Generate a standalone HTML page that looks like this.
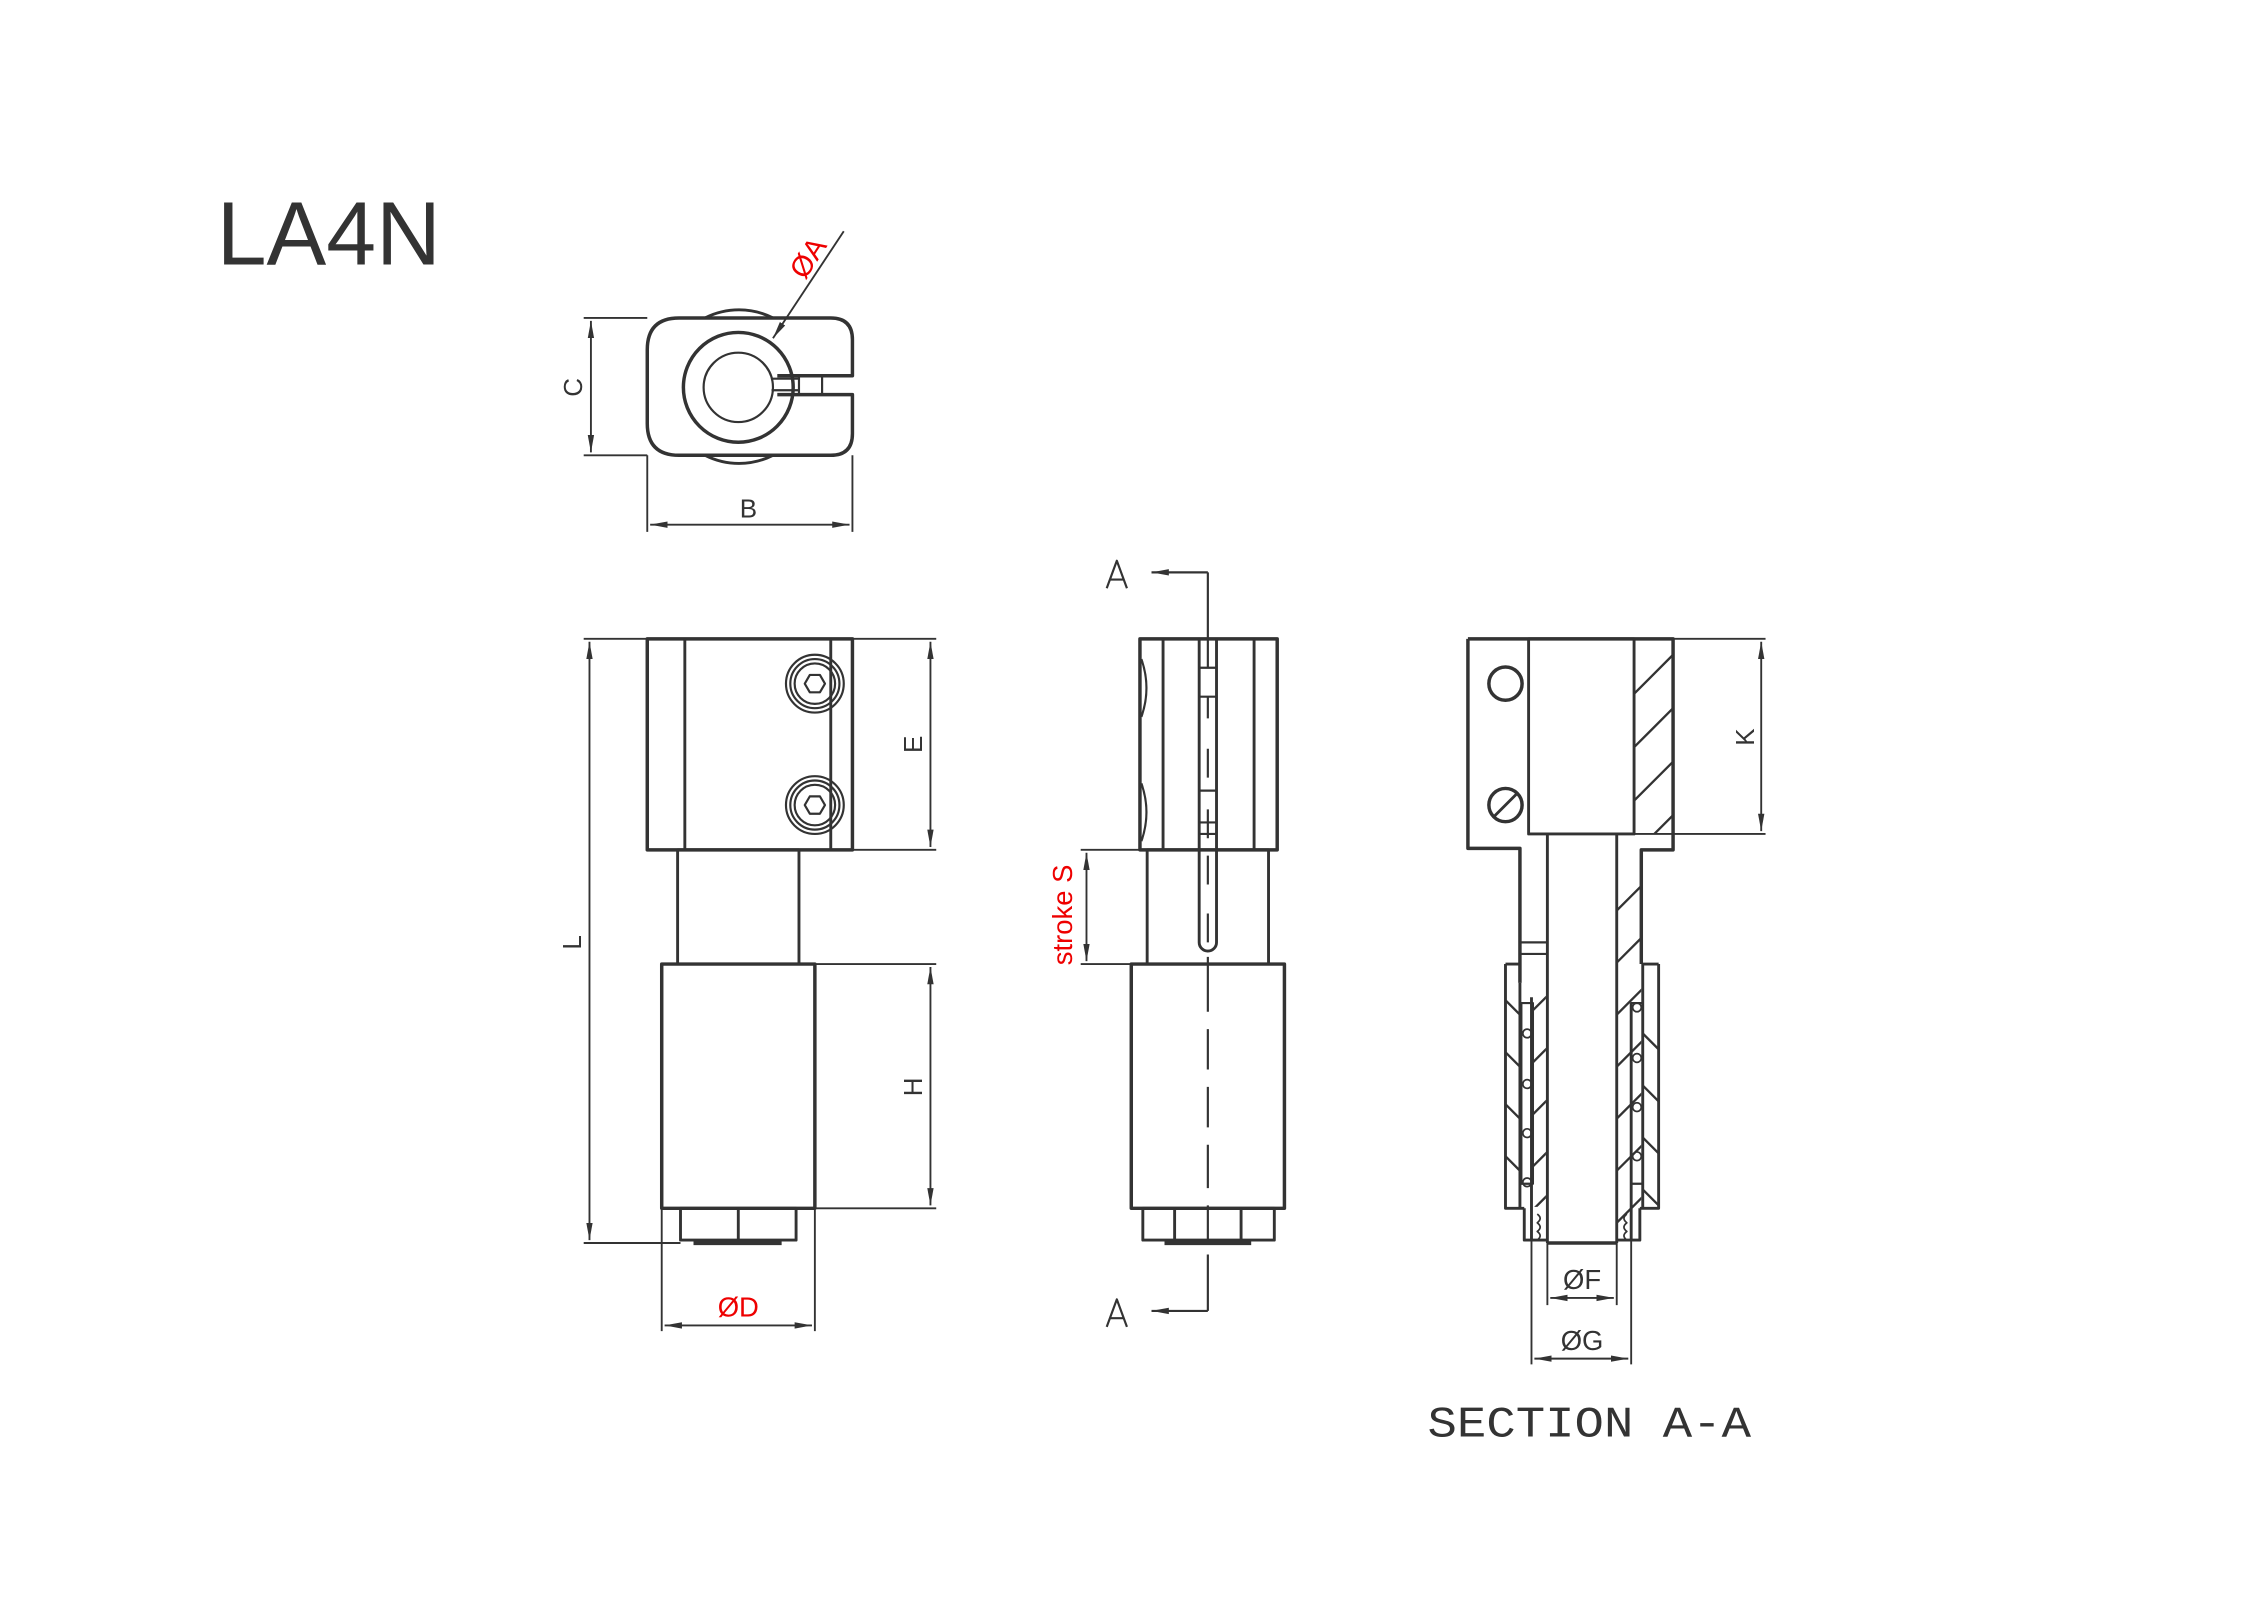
<!DOCTYPE html>
<html><head><meta charset="utf-8"><style>html,body{margin:0;padding:0;background:#fff}svg{display:block}</style></head>
<body>
<svg width="2264" height="1600" viewBox="0 0 1567 1107" preserveAspectRatio="none" xmlns="http://www.w3.org/2000/svg">
<defs>
<marker id="ar" viewBox="0 0 12 6" refX="12" refY="3" markerWidth="12" markerHeight="6" markerUnits="userSpaceOnUse" orient="auto-start-reverse"><path d="M0,0.8 L12,3 L0,5.2 z" fill="#333"/></marker>
<clipPath id="c1"><rect x="1131" y="442" width="27" height="135"/></clipPath>
<clipPath id="c2"><path d="M1119,577 H1158 V588 H1136 V860 H1119 Z"/></clipPath>
<clipPath id="c3"><rect x="1042" y="667" width="10" height="169"/><rect x="1137" y="667" width="11" height="169"/></clipPath>
<clipPath id="c4"><rect x="1060" y="680" width="10" height="155"/></clipPath>
</defs>
<g fill="none" stroke="#333" stroke-width="2" stroke-linejoin="round">
<text x="150" y="183" font-family="Liberation Sans, sans-serif" font-size="62" fill="#333" stroke="none">LA4N</text>

<!-- Top view -->
<path d="M488,220 A52,52 0 0 1 535,220"/>
<path d="M488,315 A52,52 0 0 0 535,315"/>
<path d="M538,260 H590 V235 Q590,220 575,220 H470 Q448,220 448,242 V293 Q448,315 470,315 H575 Q590,315 590,300 V273 H538" stroke-width="2.4"/>
<circle cx="511" cy="268" r="38" stroke-width="2.4"/>
<circle cx="511" cy="268" r="24" stroke-width="1.5"/>
<path d="M534,262 H553 M534,270 H553 M553,260 V273 M569,260 V273" stroke-width="1.5"/>
<path d="M404,220 H448 M404,315 H448" stroke-width="1.3"/>
<line x1="409" y1="222" x2="409" y2="313" stroke-width="1.3" marker-start="url(#ar)" marker-end="url(#ar)"/>
<text x="403" y="268" transform="rotate(-90 403 268)" text-anchor="middle" font-family="Liberation Sans, sans-serif" font-size="18" fill="#333" stroke="none">C</text>
<path d="M448,315 V368 M590,315 V368" stroke-width="1.3"/>
<line x1="450" y1="363" x2="588" y2="363" stroke-width="1.3" marker-start="url(#ar)" marker-end="url(#ar)"/>
<text x="518" y="358" text-anchor="middle" font-family="Liberation Sans, sans-serif" font-size="18" fill="#333" stroke="none">B</text>
<line x1="584" y1="160" x2="535" y2="234" stroke-width="1.3" marker-end="url(#ar)"/>
<text x="565" y="182" transform="rotate(-57 565 182)" text-anchor="middle" font-family="Liberation Sans, sans-serif" font-size="20" fill="#e00" stroke="none">ØA</text>

<!-- Left front view -->
<rect x="448" y="442" width="142" height="146" stroke-width="2.4"/>
<path d="M474,442 V588 M575,442 V588"/>
<g stroke-width="1.5">
<circle cx="564" cy="473" r="20"/><circle cx="564" cy="473" r="17"/><circle cx="564" cy="473" r="14"/>
<polygon points="557,473 560.5,467 567.5,467 571,473 567.5,479 560.5,479"/>
<circle cx="564" cy="557" r="20"/><circle cx="564" cy="557" r="17"/><circle cx="564" cy="557" r="14"/>
<polygon points="557,557 560.5,551 567.5,551 571,557 567.5,563 560.5,563"/>
</g>
<rect x="469" y="588" width="84" height="79"/>
<rect x="458" y="667" width="106" height="169" stroke-width="2.4"/>
<rect x="471" y="836" width="80" height="22"/>
<path d="M511,836 V858"/>
<path d="M480,860 H541" stroke-width="3"/>
<path d="M404,442 H448 M404,860 H471" stroke-width="1.3"/>
<line x1="408" y1="444" x2="408" y2="858" stroke-width="1.3" marker-start="url(#ar)" marker-end="url(#ar)"/>
<text x="402" y="652" transform="rotate(-90 402 652)" text-anchor="middle" font-family="Liberation Sans, sans-serif" font-size="18" fill="#333" stroke="none">L</text>
<path d="M590,442 H648 M590,588 H648" stroke-width="1.3"/>
<line x1="644" y1="444" x2="644" y2="586" stroke-width="1.3" marker-start="url(#ar)" marker-end="url(#ar)"/>
<text x="638" y="515" transform="rotate(-90 638 515)" text-anchor="middle" font-family="Liberation Sans, sans-serif" font-size="18" fill="#333" stroke="none">E</text>
<path d="M564,667 H648 M564,836 H648" stroke-width="1.3"/>
<line x1="644" y1="669" x2="644" y2="834" stroke-width="1.3" marker-start="url(#ar)" marker-end="url(#ar)"/>
<text x="638" y="752" transform="rotate(-90 638 752)" text-anchor="middle" font-family="Liberation Sans, sans-serif" font-size="18" fill="#333" stroke="none">H</text>
<path d="M458,836 V921 M564,836 V921" stroke-width="1.3"/>
<line x1="460" y1="917" x2="562" y2="917" stroke-width="1.3" marker-start="url(#ar)" marker-end="url(#ar)"/>
<text x="511" y="911" text-anchor="middle" font-family="Liberation Sans, sans-serif" font-size="19" fill="#e00" stroke="none">ØD</text>

<!-- Middle view -->
<rect x="789" y="442" width="95" height="146" stroke-width="2.4"/>
<path d="M805,442 V588 M868,442 V588"/>
<path d="M830,442 V652 A6,6 0 0 0 842,652 V442"/>
<path d="M830,462 H842 M830,482 H842 M830,547 H842 M830,569 H842 M830,577 H842" stroke-width="1.5"/>
<path d="M790,456 Q797,476 790,496 M790,542 Q797,562 790,582" stroke-width="1.5"/>
<rect x="794" y="588" width="84" height="79"/>
<rect x="783" y="667" width="106" height="169" stroke-width="2.4"/>
<rect x="791" y="836" width="91" height="22"/>
<path d="M813,836 V858 M859,836 V858"/>
<path d="M806,860 H866" stroke-width="3"/>
<path d="M836,396 V462 M836,482 V497 M836,518 V538 M836,560 V580 M836,592 V612 M836,632 V652 M836,662 V700 M836,712 V740 M836,752 V780 M836,792 V822 M836,834 V858 M836,868 V907" stroke-width="1.5"/>
<line x1="836" y1="396" x2="797" y2="396" stroke-width="1.5" marker-end="url(#ar)"/>
<line x1="836" y1="907" x2="797" y2="907" stroke-width="1.5" marker-end="url(#ar)"/>
<path d="M766,407 L773,388 L780,407 M768,401 H778" stroke-width="1.5"/>
<path d="M766,918 L773,899 L780,918 M768,912 H778" stroke-width="1.5"/>
<path d="M748,588 H789 M748,667 H783" stroke-width="1.3"/>
<line x1="752" y1="590" x2="752" y2="665" stroke-width="1.3" marker-start="url(#ar)" marker-end="url(#ar)"/>
<text x="742" y="633" transform="rotate(-90 742 633)" text-anchor="middle" font-family="Liberation Sans, sans-serif" font-size="19" fill="#e00" stroke="none">stroke S</text>

<!-- Section view -->
<path d="M1016,442 H1158 V588 H1136 V667 M1016,442 V587 H1052 V680" stroke-width="2.4"/>
<rect x="1058" y="442" width="73" height="135"/>
<circle cx="1042" cy="473" r="11.5" stroke-width="2.4"/>
<circle cx="1042" cy="557" r="11.5" stroke-width="2.4"/>
<line x1="1034" y1="565" x2="1050" y2="549"/>
<path d="M1071,577 V860 M1119,577 V860"/>
<path d="M1052,652 H1071 M1052,660 H1071" stroke-width="1.5"/>
<g clip-path="url(#c1)" stroke-width="1.6"><path d="M1131,480 L1170,441 M1131,517 L1170,478 M1131,554 L1170,515 M1131,591 L1170,552"/></g>
<g clip-path="url(#c2)" stroke-width="1.6"><path d="M1119,630 L1160,589 M1119,666 L1160,625 M1119,702 L1160,661 M1119,738 L1160,697 M1119,774 L1160,733 M1119,810 L1160,769 M1119,846 L1160,805 M1119,882 L1160,841"/></g>
<g clip-path="url(#c3)" stroke-width="1.6"><path d="M1040,690 L1152,802 M1040,726 L1152,838 M1040,762 L1152,874 M1040,798 L1152,910 M1040,654 L1152,766 M1040,618 L1152,730"/></g>
<g clip-path="url(#c4)" stroke-width="1.6"><path d="M1060,700 L1072,688 M1060,736 L1072,724 M1060,772 L1072,760 M1060,808 L1072,796 M1060,838 L1072,826"/></g>
<path d="M1042,667 H1052 M1042,667 V836 H1055 M1148,667 H1137 M1148,667 V836 H1135"/>
<path d="M1052,680 V836 M1060,690 V858 M1129,694 V858 M1137,667 V836"/>
<rect x="1053" y="694" width="8" height="125" stroke-width="1.5"/>
<rect x="1129" y="694" width="8" height="125" stroke-width="1.5"/>
<g stroke-width="1.2"><circle cx="1057" cy="715" r="3"/><circle cx="1057" cy="750" r="3"/><circle cx="1057" cy="784" r="3"/><circle cx="1057" cy="818" r="3"/><circle cx="1133" cy="697" r="3"/><circle cx="1133" cy="732" r="3"/><circle cx="1133" cy="766" r="3"/><circle cx="1133" cy="800" r="3"/></g>
<path d="M1055,836 V858 H1071 M1135,836 V858 H1119"/>
<path d="M1064,840 Q1068,843 1064,846 Q1068,849 1064,852 Q1068,855 1064,858 M1126,840 Q1122,843 1126,846 Q1122,849 1126,852 Q1122,855 1126,858" stroke-width="1.2"/>
<path d="M1071,860 H1119" stroke-width="2.4"/>
<path d="M1158,442 H1222 M1131,577 H1222" stroke-width="1.3"/>
<line x1="1219" y1="444" x2="1219" y2="575" stroke-width="1.3" marker-start="url(#ar)" marker-end="url(#ar)"/>
<text x="1214" y="510" transform="rotate(-90 1214 510)" text-anchor="middle" font-family="Liberation Sans, sans-serif" font-size="18" fill="#333" stroke="none">K</text>
<path d="M1071,860 V903 M1119,860 V903 M1060,858 V944 M1129,858 V944" stroke-width="1.3"/>
<line x1="1073" y1="898" x2="1117" y2="898" stroke-width="1.3" marker-start="url(#ar)" marker-end="url(#ar)"/>
<line x1="1062" y1="940" x2="1127" y2="940" stroke-width="1.3" marker-start="url(#ar)" marker-end="url(#ar)"/>
<text x="1095" y="892" text-anchor="middle" font-family="Liberation Sans, sans-serif" font-size="19" fill="#333" stroke="none">ØF</text>
<text x="1095" y="934" text-anchor="middle" font-family="Liberation Sans, sans-serif" font-size="19" fill="#333" stroke="none">ØG</text>
<text x="988" y="994" font-family="Liberation Mono, monospace" font-size="30" fill="#333" stroke="none" textLength="224" lengthAdjust="spacingAndGlyphs">SECTION A-A</text>
</g>
</svg>
</body></html>
